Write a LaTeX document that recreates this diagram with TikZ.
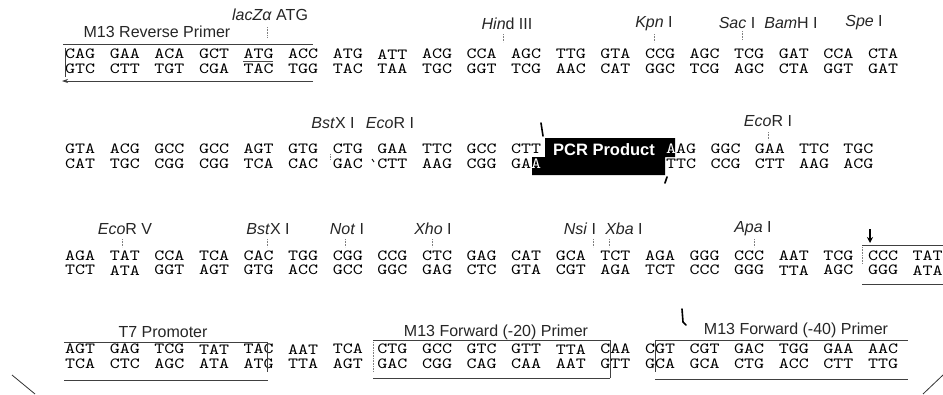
\documentclass[tikz,border=0pt]{standalone}
\usepackage{fontspec}
\setmainfont{Liberation Sans}
\newfontfamily\codonfont[Extension=.otf, FakeStretch=1.23]{lmmono10-regular}
\usetikzlibrary{arrows.meta}
\tikzset{
  bp/.style={font=\codonfont\fontsize{15.5}{14.5}\selectfont, text=black, inner sep=0pt, anchor=west, align=left},
  lab/.style={font=\fontsize{16}{16}\selectfont, text=black!85, inner sep=0pt},
  boxline/.style={line width=0.7pt, draw=black!75},
  cuttick/.style={line width=0.6pt, draw=black!50, densely dotted},
  cutmark/.style={line width=1.6pt, draw=black, line cap=round},
}
\begin{document}
\begin{tikzpicture}[x=1pt,y=-1pt]
\useasboundingbox[fill=white] (0,0) rectangle (943,394);

% ---------- Row 1 ----------
\foreach \t/\b [count=\i from 0] in {CAG/GTC,GAA/CTT,ACA/TGT,GCT/CGA,ATG/TAC,ACC/TGG,ATG/TAC,ATT/TAA,ACG/TGC,CCA/GGT,AGC/TCG,TTG/AAC,GTA/CAT,CCG/GGC,AGC/TCG,TCG/AGC,GAT/CTA,CCA/GGT,CTA/GAT}
  \node[bp] (r1c\i) at ({65+44.6*\i},61.5) {\t\\\b};
\draw[line width=0.6pt, black!70] (243,61) -- (273,61);

\node[lab] (m13r) at (157,32) {M13 Reverse Primer};
\node[lab] (lacz) at (270,15) {\textit{lacZα} ATG};
\node[lab] (hind) at (507,24) {\textit{Hin}d III};
\node[lab] (kpn)  at (654,24) {\textit{Kpn} I};
\node[lab] (sac)  at (737,23) {\textit{Sac} I};
\node[lab] (bam)  at (791,23) {\textit{Bam}H I};
\node[lab] (spe)  at (864,23) {\textit{Spe} I};
\draw[cuttick] (267,27) -- (267,37);
\draw[cuttick] (503,34) -- (503,42);
\draw[cuttick] (654,34) -- (654,42);
\draw[cuttick] (742,31) -- (742,40);

\draw[boxline] (63,44) -- (313,44);
\draw[boxline] (65,48) -- (65,77);
\draw[boxline, -{Stealth[length=6pt,width=4pt]}] (313,81) -- (62,81);

% ---------- Row 2 ----------
\fill[black] (545,138) -- (675,138) -- (675,157) -- (665,157) -- (665,175)
  -- (532,175) -- (532,157) -- (545,157) -- cycle;
\foreach \t/\b [count=\i from 0] in {GTA/CAT,ACG/TGC,GCC/CGG,GCC/CGG,AGT/TCA,GTG/CAC,CTG/GAC,GAA/CTT,TTC/AAG,GCC/CGG,CTT/GA\textcolor{white}{A}}
  \node[bp] (r2c\i) at ({65+44.6*\i},156.5) {\t\\\b};
\foreach \t/\b [count=\i from 11] in {\textcolor{white}{A}AG/TTC,GGC/CCG,GAA/CTT,TTC/AAG,TGC/ACG}
  \node[bp] (r2c\i) at ({666+44.3*(\i-11)},156.5) {\t\\\b};
\node[font=\bfseries\fontsize{16.5}{16.5}\selectfont, text=white, inner sep=0pt] (pcr) at (604,150) {PCR Product};
\draw[cutmark] (541,123) -- (543,136);
\draw[cutmark] (667,177) -- (665,183);

\node[lab] (bstx1) at (333,123) {\textit{Bst}X I};
\node[lab] (eco1)  at (390,123) {\textit{Eco}R I};
\node[lab] (eco2)  at (768,121) {\textit{Eco}R I};
\draw[cuttick] (768,132) -- (768,140);
\draw[cuttick] (330,154) -- (330,159);
\draw[line width=0.9pt] (372,159) -- (374,162);

% ---------- Row 3 ----------
\foreach \t/\b [count=\i from 0] in {AGA/TCT,TAT/ATA,CCA/GGT,TCA/AGT,CAC/GTG,TGG/ACC,CGG/GCC,CCG/GGC,CTC/GAG,GAG/CTC,CAT/GTA,GCA/CGT,TCT/AGA,AGA/TCT,GGG/CCC,CCC/GGG,AAT/TTA,TCG/AGC,CCC/GGG,TAT/ATA}
  \node[bp] (r3c\i) at ({65+44.6*\i},263) {\t\\\b};

\node[lab] (ecov) at (125,229) {\textit{Eco}R V};
\node[lab] (bstx2) at (268,229) {\textit{Bst}X I};
\node[lab] (not) at (347,229) {\textit{Not} I};
\node[lab] (xho) at (433,229) {\textit{Xho} I};
\node[lab] (nsi) at (580,229) {\textit{Nsi} I};
\node[lab] (xba) at (624,229) {\textit{Xba} I};
\node[lab] (apa) at (753,229) {\textit{Apa} I};
\foreach \x in {122,267,345,432,593,609,754}
  \draw[cuttick] (\x,239) -- (\x,247);
\draw[line width=1.1pt, -{Stealth[length=6pt,width=6pt]}] (870,229) -- (870,243);

\draw[boxline] (862,245) -- (943,245);
\draw[boxline] (862,284) -- (943,284);
\draw[cuttick] (862,247) -- (862,264);

% ---------- Row 4 ----------
\foreach \t/\b [count=\i from 0] in {AGT/TCA,GAG/CTC,TCG/AGC,TAT/ATA,TAC/ATG,AAT/TTA,TCA/AGT,CTG/GAC,GCC/CGG,GTC/CAG,GTT/CAA,TTA/AAT,CAA/GTT,CGT/GCA,CGT/GCA,GAC/CTG,TGG/ACC,GAA/CTT,AAC/TTG}
  \node[bp] (r4c\i) at ({65+44.6*\i},356.5) {\t\\\b};

\node[lab] (t7) at (163,332) {T7 Promoter};
\node[lab] (m20) at (496,332) {M13 Forward (-20) Primer};
\node[lab] (m40) at (796,330) {M13 Forward (-40) Primer};

\draw[boxline] (64,342) -- (268,342);
\draw[boxline] (64,380) -- (268,380);
\draw[boxline] (267,342) -- (267,372);

\draw[boxline] (373,340) -- (610,340);
\draw[boxline] (373,378) -- (610,378);
\draw[cuttick] (373,342) -- (373,372);
\draw[boxline] (610,340) -- (610,378);

\draw[boxline] (655,340) -- (908,340);
\draw[boxline] (655,379) -- (908,379);
\draw[boxline] (655,340) -- (655,372);

\draw[cutmark] (682,309) -- (683,322) -- (686,325);

% ---------- map outline corners ----------
\draw[line width=0.8pt, black!80] (12,375) -- (35,394);
\draw[line width=0.8pt, black!80] (923,394) -- (943,375);
\end{tikzpicture}
\end{document}
